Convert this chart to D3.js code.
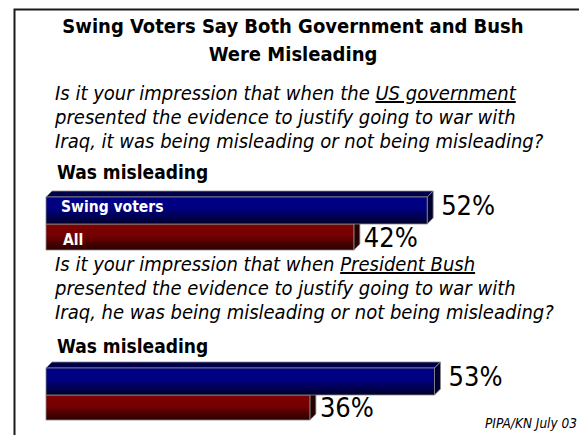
<!DOCTYPE html>
<html>
<head>
<meta charset="utf-8">
<script src="https://cdn.jsdelivr.net/npm/d3@7"></script>
<style>
  html, body { margin: 0; padding: 0; background: #fff; }
  svg { display: block; }
  text { font-family: "DejaVu Sans Condensed", "DejaVu Sans", sans-serif; font-stretch: condensed; }
</style>
</head>
<body>
<svg id="chart" width="579" height="435"></svg>
<script>
// Survey results: share saying each was misleading, by group
const titleLines = ["Swing Voters Say Both Government and Bush", "Were Misleading"];
const subjects = ["US government", "President Bush"];
const questionPre = ["Is it your impression that when the ", "Is it your impression that when "];
const questionRest = [
  ["presented the evidence to justify going to war with",
   "Iraq, it was being misleading or not being misleading?"],
  ["presented the evidence to justify going to war with",
   "Iraq, he was being misleading or not being misleading?"]
];
const answerLabel = "Was misleading";
const groups = ["Swing voters", "All"];
const swingValues = [52, 53];
const allValues = [42, 36];
const source = "PIPA/KN July 03";

const svg = d3.select("#chart");
const W = 579, H = 435;

// frame
svg.append("path")
  .attr("d", `M14.5,${H} V9.5 H${W}`)
  .attr("fill", "none").attr("stroke", "#1a1a1a").attr("stroke-width", 2);

// gradients
const defs = svg.append("defs");
function grad(id, stops) {
  const g = defs.append("linearGradient").attr("id", id)
    .attr("x1", 0).attr("y1", 0).attr("x2", 0).attr("y2", 1);
  stops.forEach(([o, c]) => g.append("stop").attr("offset", o).attr("stop-color", c));
}
grad("blueFront", [[0, "#00008a"], [0.45, "#00007e"], [1, "#00002a"]]);
grad("redFront", [[0, "#800000"], [0.45, "#740000"], [1, "#280000"]]);

const colors = {
  front: ["url(#blueFront)", "url(#redFront)"],
  top: ["#00004a", "#4a0000"],
  side: ["#000030", "#280000"]
};

// title
svg.append("text")
  .attr("text-anchor", "middle").attr("font-weight", "bold")
  .attr("font-size", 20).attr("fill", "#000")
  .selectAll("tspan").data(titleLines).join("tspan")
  .attr("x", 293).attr("y", (d, i) => 33 + i * 28).text(d => d);

const x = d3.scaleLinear().domain([0, 100]).range([46, 46 + 733]);
const depth = 6;

// one block per question
const blocks = [
  { qy: 100, ansY: 179, rows: [[197, 224], [224, 250]] },
  { qy: 271, ansY: 353, rows: [[368, 395], [395, 420]] }
];

blocks.forEach((b, qi) => {
  const q = svg.append("text")
    .attr("font-style", "italic").attr("font-size", 20).attr("fill", "#000");
  const l1 = q.append("tspan").attr("x", 55).attr("y", b.qy);
  l1.append("tspan").text(questionPre[qi]);
  l1.append("tspan").attr("text-decoration", "underline").text(subjects[qi]);
  questionRest[qi].forEach((line, li) => {
    q.append("tspan").attr("x", 55).attr("y", b.qy + (li + 1) * 24).text(line);
  });

  svg.append("text")
    .attr("x", 57).attr("y", b.ansY)
    .attr("font-weight", "bold").attr("font-size", 19).attr("fill", "#000")
    .text(answerLabel);

  const vals = [swingValues[qi], allValues[qi]];
  // draw the lower bar first so the upper bar's face covers its hidden top
  [1, 0].forEach(gi => {
    const [y0, y1] = b.rows[gi];
    const x0 = x(0), x1 = x(vals[gi]);
    const g = svg.append("g");
    g.append("polygon")
      .attr("points", [[x0, y0], [x0 + depth, y0 - depth], [x1 + depth, y0 - depth], [x1, y0]].join(" "))
      .attr("fill", colors.top[gi]).attr("stroke", "#8a8a8a").attr("stroke-width", 0.8);
    g.append("polygon")
      .attr("points", [[x1, y0], [x1 + depth, y0 - depth], [x1 + depth, y1 - depth], [x1, y1]].join(" "))
      .attr("fill", colors.side[gi]).attr("stroke", "#8a8a8a").attr("stroke-width", 0.8);
    g.append("rect")
      .attr("x", x0).attr("y", y0).attr("width", x1 - x0).attr("height", y1 - y0)
      .attr("fill", colors.front[gi]).attr("stroke", "#8a8a8a").attr("stroke-width", 0.8);

    // value label
    svg.append("text")
      .attr("x", x1 + depth + (gi === 0 ? 8 : 4))
      .attr("y", gi === 0 ? y1 - 9 : y1 - 3)
      .attr("font-size", 27).attr("fill", "#000")
      .text(vals[gi] + "%");

    // group label only on the first question
    if (qi === 0) {
      svg.append("text")
        .attr("x", gi === 0 ? 61 : 63).attr("y", gi === 0 ? y1 - 12 : y1 - 5)
        .attr("font-weight", "bold").attr("font-size", 15.5).attr("fill", "#fff")
        .text(groups[gi]);
    }
  });
});

// source note
svg.append("text")
  .attr("x", 577).attr("y", 428).attr("text-anchor", "end")
  .attr("font-style", "italic").attr("font-size", 13.5).attr("fill", "#000")
  .text(source);
</script>
</body>
</html>
